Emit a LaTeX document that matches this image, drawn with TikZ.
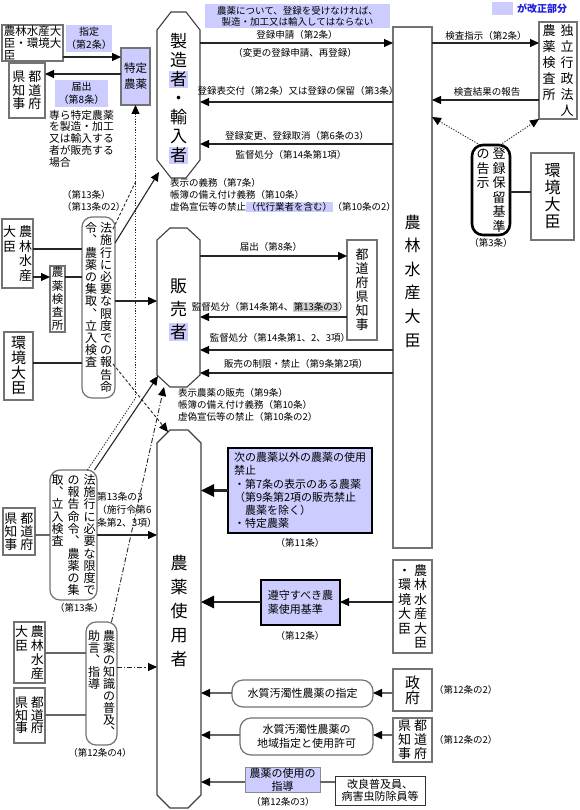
\documentclass[tikz,border=0pt]{standalone}
\usepackage{fontspec}
\setmainfont{Noto Sans CJK JP}
\usetikzlibrary{arrows.meta}
\definecolor{hl}{RGB}{204,204,255}
\definecolor{bluet}{RGB}{30,30,220}
\definecolor{grayhl}{RGB}{208,208,208}
\newcommand\tate[2]{\vtop{\baselineskip=#1\relax\lineskiplimit=-100pt\lineskip=0pt\tateloop#2\relax}}
\def\tateloop#1{\ifx#1\relax\else\hbox to 1em{\hss#1\hss}\expandafter\tateloop\fi}
\newcommand\tatetwo[4]{\hbox{\tate{#1}{#3}\kern#2\tate{#1}{#4}}}
\newcommand\tatethree[5]{\hbox{\tate{#1}{#3}\kern#2\tate{#1}{#4}\kern#2\tate{#1}{#5}}}
\newcommand\hsha{{\setlength\fboxsep{1pt}\colorbox{hl}{者}}}
\newcommand\hlbox[1]{{\setlength\fboxsep{0.5pt}\colorbox{hl}{#1}}}
\newcommand\graybox[1]{{\setlength\fboxsep{0.5pt}\colorbox{grayhl}{#1}}}
\newcommand\octagonof[3]{\draw[octline] ([xshift=#2]#1.north west) -- ([xshift=-#2]#1.north east) -- ([yshift=-#3]#1.north east) -- ([yshift=#3]#1.south east) -- ([xshift=-#2]#1.south east) -- ([xshift=#2]#1.south west) -- ([yshift=#3]#1.south west) -- ([yshift=-#3]#1.north west) -- cycle;}
\tikzset{
 every node/.style={inner sep=0pt, outer sep=0pt},
 fs/.style={font=\fontsize{9.5}{11.5}\selectfont},
 fsl/.style={font=\fontsize{9.5}{12.2}\selectfont},
 fbig/.style={font=\fontsize{17}{19}\selectfont},
 fbigm/.style={font=\fontsize{16}{18}\selectfont},
 fmid/.style={font=\fontsize{13}{15}\selectfont},
 fsm/.style={font=\fontsize{12}{13}\selectfont},
 box/.style={draw=black!55, line width=1.2pt},
 heavy/.style={draw=black, line width=2.6pt, fill=hl},
 lav/.style={fill=hl},
 octline/.style={draw=black!75, line width=1.1pt},
 conn/.style={draw=black!85, line width=1.1pt},
 gconn/.style={draw=black!60, line width=1.6pt},
 tipn/.style={-{Triangle[length=9pt,width=8pt,color=black]}},
 arr/.style={conn, tipn},
 garr/.style={gconn, tipn},
 bigarr/.style={draw=black!85, line width=2.6pt, -{Triangle[length=13pt,width=12pt,color=black]}},
 dotl/.style={draw=black!85, line width=0.9pt, dash pattern=on 1.2pt off 1.5pt},
 dotarr/.style={dotl, tipn},
 dashl/.style={draw=black!85, line width=0.9pt, dash pattern=on 3pt off 2pt},
 dasharr/.style={dashl, tipn},
 dashdotarr/.style={draw=black!85, line width=0.9pt, dash pattern=on 5pt off 2pt on 1.2pt off 2pt, tipn},
}
\begin{document}
\begin{tikzpicture}[x=1pt,y=-1pt]
\fill[white] (0,0) rectangle (579,810);
\useasboundingbox (0,0) rectangle (579,810);
% legend
\node[lav, minimum width=21pt, minimum height=13pt] (leg) at (502.5,8.5) {};
\node[text=bluet, anchor=west, font=\fontsize{10}{12}\bfseries] (legt) at (517,8.5) {が改正部分};
% banner
\node[lav, fs, align=center, minimum width=185pt, minimum height=24pt] (banner) at (297.5,16.5) {農薬について、登録を受けなければ、\\製造・加工又は輸入してはならない};
% octagons
\node[minimum width=43pt, minimum height=166pt] (mfr) at (178.5,95) {};
\octagonof{mfr}{14pt}{18pt}
\node[fbig] (mfrt) at (178.5,99) {\tate{19pt}{製造\hsha ・輸入\hsha }};
\node[minimum width=43pt, minimum height=159pt] (sell) at (178.5,307.5) {};
\octagonof{sell}{13pt}{12pt}
\node[fbig] (sellt) at (178.5,310) {\tate{23pt}{販売\hsha }};
\node[minimum width=44pt, minimum height=378pt] (user) at (179,619) {};
\octagonof{user}{13pt}{13pt}
\node[fbig] (usert) at (179,611) {\tate{24pt}{農薬使用者}};
% MAFF big
\node[box, minimum width=39pt, minimum height=521pt] (maff) at (412.5,287.5) {};
\node[fbigm] (mafft) at (412.5,281) {\tate{23.6pt}{農林水産大臣}};
% mfr <-> maff
\draw[arr] (mfr.east |- 0,43) -- (maff.west |- 0,43);
\node[fs] (l1) at (297,35) {登録申請（第2条）};
\node[fs] (l2) at (295,53) {（変更の登録申請、再登録）};
\draw[arr] (maff.west |- 0,102) -- (mfr.east |- 0,102);
\node[fs] (l3) at (298,91) {登録表交付（第2条）又は登録の保留（第3条）};
\draw[arr] (maff.west |- 0,144) -- (mfr.east |- 0,144);
\node[fs] (l4) at (297,136) {登録変更、登録取消（第6条の3）};
\node[fs] (l5) at (291,155) {監督処分（第14条第1項）};
\node[fsl, anchor=west, align=left] (mfrduty) at (170,195) {表示の義務（第7条）\\帳簿の備え付け義務（第10条）\\虚偽宣伝等の禁止\hlbox{（代行業者を含む）}（第10条の2）};
% sell
\node[box, fmid, minimum width=30pt, minimum height=100pt] (prefM) at (362,290) {\tate{14pt}{都道府県知事}};
\draw[arr] (sell.east |- 0,256) -- (prefM.west |- 0,256);
\node[fs] (l6) at (271,247) {届出（第8条）};
\draw[arr] (prefM.west |- 0,317) -- (sell.east |- 0,317);
\node[fs] (l7) at (270,307) {監督処分（第14条第4、\graybox{第13条の3}）};
\draw[arr] (maff.west |- 0,350) -- (sell.east |- 0,350);
\node[fs] (l8) at (280,338) {監督処分（第14条第1、2、3項）};
\draw[arr] (maff.west |- 0,373) -- (sell.east |- 0,373);
\node[fs] (l9) at (296,364) {販売の制限・禁止（第9条第2項）};
\node[fsl, anchor=west, align=left] (sellduty) at (178,405) {表示農薬の販売（第9条）\\帳簿の備え付け義務（第10条）\\虚偽宣伝等の禁止（第10条の2）};
% top right
\node[box, fmid, minimum width=38pt, minimum height=97pt] (niap) at (558,70.5) {\tatetwo{16pt}{5pt}{農薬検査所}{独立行政法人}};
\draw[arr] (maff.east |- 0,43) -- (niap.west |- 0,43);
\node[fs] (l10) at (486,36) {検査指示（第2条）};
\draw[arr] (niap.west |- 0,100) -- (maff.east |- 0,100);
\node[fs] (l11) at (487,92) {検査結果の報告};
\node[draw=black, line width=2.6pt, rounded corners=11pt, fmid, minimum width=38pt, minimum height=90pt] (kijun) at (491,190) {\tatetwo{14.6pt}{3pt}{の告示}{登録保留基準}};
\node[fs] (l12) at (491,243) {（第3条）};
\node[box, fbigm, minimum width=43pt, minimum height=87pt] (env1) at (552.5,196.5) {\tate{17pt}{環境大臣}};
\draw[conn] (kijun.east |- 0,192) -- (env1.west |- 0,192);
\draw[dotarr] ([xshift=-11pt]kijun.north) -- (maff.east |- 0,117);
\draw[dotarr] ([xshift=9pt]kijun.north) -- (niap.south west);
% top left
\node[box, align=left, font=\fontsize{11.5}{11.7}\selectfont, minimum width=61pt, minimum height=36pt] (tlmin) at (32.5,43) {農林水産大\\臣・環境大\\臣};
\node[lav, align=center, font=\fontsize{10}{13}\selectfont, minimum width=42pt, minimum height=27pt] (shitei) at (89,38.5) {指定\\（第2条）};
\node[box, fill=hl, align=center, font=\fontsize{11.5}{16}\selectfont, minimum width=29pt, minimum height=57pt] (tokutei) at (135.5,76.5) {特定\\農薬};
\draw[arr] (tlmin.east |- 0,57) -- (tokutei.west |- 0,57);
\node[box, fmid, minimum width=36pt, minimum height=55pt] (pref1) at (27,90.5) {\tatetwo{13.5pt}{3pt}{県知事}{都道府}};
\draw[arr] (tokutei.west |- 0,74) -- (pref1.east |- 0,74);
\node[lav, align=center, font=\fontsize{10}{13}\selectfont, minimum width=53pt, minimum height=27pt] (todoke) at (81.5,93.5) {届出\\（第8条）};
\node[font=\fontsize{10.8}{11.8}\selectfont, align=left, anchor=north west] (senra) at (49,110) {専ら特定農薬\\を製造・加工\\又は輸入する\\者が販売する\\場合};
% upper left inspection box
\node[box, rounded corners=10pt, fsm, minimum width=33pt, minimum height=181pt] (kenU) at (98.5,307.5) {\tatetwo{12.2pt}{3pt}{令︑農薬の集取︑立入検査}{法施行に必要な限度での報告命}};
\node[fs, anchor=west] (l13) at (62,195) {（第13条）};
\node[fs, anchor=west] (l14) at (62,207) {（第13条の2）};
\node[box, fmid, minimum width=31pt, minimum height=69pt] (maffL) at (17.5,253.5) {\tatetwo{14.7pt}{3pt}{大臣}{農林水産}};
\node[box, font=\fontsize{11.5}{13}\selectfont, minimum width=15pt, minimum height=66pt] (niapL) at (57.5,299) {\tate{13.3pt}{農薬検査所}};
\node[box, font=\fontsize{15}{16}\selectfont, minimum width=29pt, minimum height=68pt] (envL) at (18.5,366) {\tate{15pt}{環境大臣}};
\draw[conn] (maffL.east |- 0,249) -- (kenU.west |- 0,249);
\draw[arr] (maffL.east |- 0,277) -- (niapL.west |- 0,277);
\draw[conn] (niapL.east |- 0,277) -- (kenU.west |- 0,277);
\draw[conn] (envL.east |- 0,363) -- (kenU.west |- 0,363);
\draw[arr] (kenU.east |- 0,301) -- (sell.west |- 0,301);
% lower left inspection box
\node[box, rounded corners=10pt, fsm, minimum width=47pt, minimum height=130pt] (kenL) at (73.5,535) {\tatethree{12.3pt}{4pt}{取︑立入検査}{の報告命令︑農薬の集}{法施行に必要な限度で}};
\node[fs, anchor=west] (l15) at (55,608) {（第13条）};
\node[box, fmid, minimum width=32pt, minimum height=47pt] (prefL2) at (19,531.5) {\tatetwo{13pt}{3pt}{県知事}{都道府}};
\draw[gconn] (prefL2.east |- 0,535) -- (kenL.west |- 0,535);
\draw[arr] (kenL.east |- 0,535) -- (user.west |- 0,535);
\node[font=\fontsize{9.8}{13}\selectfont, align=left, anchor=west] (l16) at (97,510) {第13条の3\\（施行令第6\\条第2、3項）};
% diagonal connectors
\coordinate (mfrBL) at (159,172);
\coordinate (sellBL) at (158,376);
\coordinate (sellB) at (164,387);
\coordinate (userTL) at (168,432);
\coordinate (joinU) at (135.5,182);
\coordinate (joinL) at (135.5,398);
\draw[arr] (kenU.east |- 0,243) -- (mfrBL);
\draw[dashl] ([xshift=-2pt]kenU.east |- 0,229) -- (joinU);
\draw[dotarr] (joinL) -- (tokutei.south);
\draw[dotl] ([xshift=14pt]kenL.north) -- (joinL);
\draw[arr] ([xshift=21pt]kenL.north) -- (sellBL);
\draw[dasharr] ([xshift=-2pt]kenU.east |- 0,364) -- (userTL);
% knowledge box
\node[box, rounded corners=10pt, fsm, minimum width=31pt, minimum height=123pt] (chishiki) at (101.5,683.5) {\tatetwo{12.1pt}{3pt}{助言︑指導}{農薬の知識の普及︑}};
\node[fs] (l17) at (100,753) {（第12条の4）};
\node[box, fmid, minimum width=31pt, minimum height=61pt] (maffL3) at (29.5,652.5) {\tatetwo{14pt}{3pt}{大臣}{農林水産}};
\node[box, fmid, minimum width=31pt, minimum height=55pt] (prefL3) at (29.5,715.5) {\tatetwo{12.5pt}{3pt}{県知事}{都道府}};
\draw[gconn] (maffL3.east |- 0,653) -- (chishiki.west |- 0,653);
\draw[gconn] (prefL3.east |- 0,715) -- (chishiki.west |- 0,715);
\draw[dashdotarr] (chishiki.east |- 0,667) -- (user.west |- 0,667);
\draw[dashdotarr] ([xshift=10pt]chishiki.north) -- (sellB);
% prohibition box
\node[heavy, align=left, font=\fontsize{11}{13.2}\selectfont, minimum width=144pt, minimum height=85pt] (kinshi) at (300,490.5) {次の農薬以外の農薬の使用\\禁止\\・第7条の表示のある農薬\\（第9条第2項の販売禁止\\\hspace{1em}農薬を除く）\\・特定農薬};
\node[fs] (l18) at (300,543) {（第11条）};
\draw[bigarr] (kinshi.west) -- (user.east |- kinshi.west);
% standard box
\node[heavy, align=left, font=\fontsize{11}{14}\selectfont, minimum width=79pt, minimum height=45pt] (junshu) at (300.5,602.5) {遵守すべき農\\薬使用基準};
\node[fs] (l19) at (300,636) {（第12条）};
\draw[bigarr] (junshu.west |- 0,602) -- (user.east |- 0,602);
\node[box, fmid, minimum width=39pt, minimum height=93pt] (maffenv) at (412.5,606.5) {\tatetwo{14.5pt}{3pt}{・環境大臣}{農林水産大臣}};
\draw[arr] (maffenv.west |- 0,602) -- (junshu.east |- 0,602);
% water pollution
\node[box, rounded corners=11pt, font=\fontsize{11}{13}\selectfont, minimum width=141pt, minimum height=27pt] (sui1) at (302.5,693.5) {水質汚濁性農薬の指定};
\node[box, font=\fontsize{15}{16}\selectfont, minimum width=39pt, minimum height=42pt] (gov) at (412.5,690) {\tate{15pt}{政府}};
\node[fs, anchor=west] (l20) at (434,690) {（第12条の2）};
\draw[garr] (gov.west |- 0,693) -- (sui1.east |- 0,693);
\draw[garr] (sui1.west |- 0,693) -- (user.east |- 0,693);
\node[box, rounded corners=11pt, align=center, font=\fontsize{11}{14}\selectfont, minimum width=133pt, minimum height=37pt] (sui2) at (306.5,736.5) {水質汚濁性農薬の\\地域指定と使用許可};
\node[box, fmid, minimum width=39pt, minimum height=44pt] (prefR) at (412.5,740) {\tatetwo{14pt}{3pt}{県知事}{都道府}};
\node[fs, anchor=west] (l21) at (434,740) {（第12条の2）};
\draw[garr] (prefR.west |- 0,735) -- (sui2.east |- 0,735);
\draw[garr] (sui2.west |- 0,735) -- (user.east |- 0,735);
% guidance
\node[draw=black!45, line width=0.6pt, fill=hl, align=center, font=\fontsize{11}{13}\selectfont, minimum width=75pt, minimum height=25pt] (shido) at (282.5,779.5) {農薬の使用の\\指導};
\node[fs] (l22) at (283,802) {（第12条の3）};
\draw[garr] (shido.west |- 0,782) -- (user.east |- 0,782);
\node[draw=black!80, line width=0.8pt, align=center, font=\fontsize{11}{12.5}\selectfont, minimum width=90pt, minimum height=29pt] (kairyo) at (380,790.5) {改良普及員、\\病害虫防除員等};
\draw[gconn] (kairyo.west |- 0,782) -- (shido.east |- 0,782);
\end{tikzpicture}
\end{document}
